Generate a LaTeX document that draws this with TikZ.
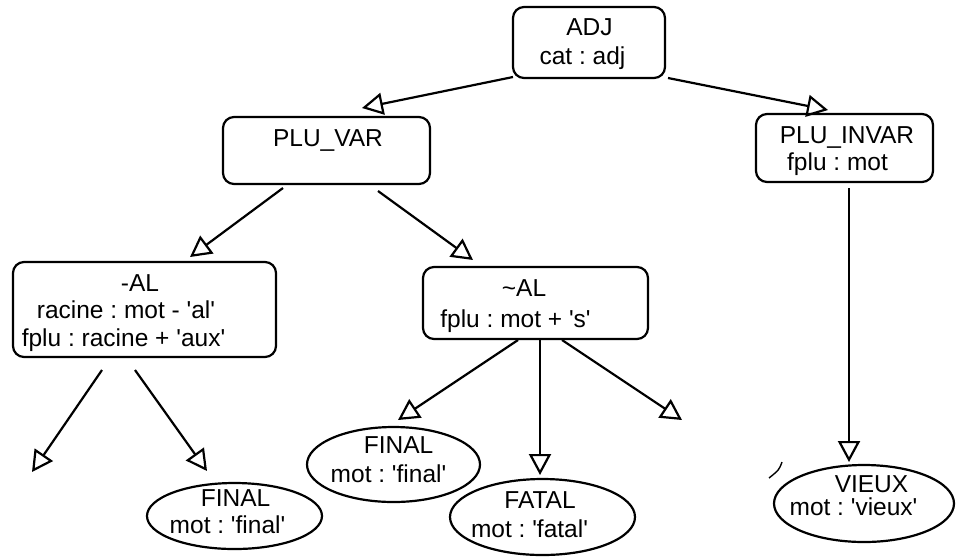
\documentclass[tikz,border=0pt]{standalone}
\usepackage{fontspec}
\setmainfont{Liberation Sans}[Ligatures={TeXOff,NoCommon}]
\usetikzlibrary{arrows.meta,shapes.geometric}
\frenchspacing
\begin{document}
\begin{tikzpicture}[x=1pt,y=-1pt,
  every node/.style={font=\fontsize{24.5}{28}\selectfont, inner sep=0pt, outer sep=0pt},
  box/.style={draw, rounded corners=11pt, line width=2.2pt},
  oval/.style={draw, ellipse, line width=2.2pt},
  txt/.style={anchor=base},
  edge/.style={line width=2.2pt,
    -{Triangle[open, length=21pt, width=22pt, line width=2.2pt]}}
]
\useasboundingbox (0,0) rectangle (957,558);

% class boxes
\node[box, minimum width=152pt, minimum height=71pt] (adj) at (589,42.5) {};
\node[box, minimum width=207pt, minimum height=67pt] (pluvar) at (326.5,150.5) {};
\node[box, minimum width=177pt, minimum height=68pt] (pluinvar) at (844.5,148) {};
\node[box, minimum width=263pt, minimum height=95pt] (al) at (144.5,309.5) {};
\node[box, minimum width=225pt, minimum height=72pt] (nal) at (535.5,303) {};

% instance ellipses
\node[oval, minimum width=175pt, minimum height=66pt] (finalA) at (234.5,516) {};
\node[oval, minimum width=173pt, minimum height=75pt] (finalB) at (393.5,464.5) {};
\node[oval, minimum width=185pt, minimum height=76pt] (fatal) at (542.5,517) {};
\node[oval, minimum width=180pt, minimum height=77pt] (vieux) at (864,503.5) {};

% labels
\node[txt] (adj-a) at (589.5,35.5) {ADJ};
\node[txt] (adj-b) at (582.5,64) {cat : adj};
\node[txt] (pluvar-a) at (328,146) {PLU\_VAR};
\node[txt] (pluinvar-a) at (847,143.5) {PLU\_INVAR};
\node[txt] (pluinvar-b) at (837.5,170) {fplu : mot};
\node[txt] (al-a) at (140,291) {-AL};
\node[txt] (al-b) at (126,318) {racine : mot - 'al'};
\node[txt] (al-c) at (123.5,346) {fplu : racine + 'aux'};
\node[txt] (nal-a) at (524,296) {\textasciitilde AL};
\node[txt] (nal-b) at (515.5,327) {fplu : mot + 's'};
\node[txt] (finalB-a) at (398.5,453) {FINAL};
\node[txt] (finalB-b) at (388.5,482) {mot : 'final'};
\node[txt] (fatal-a) at (540,508) {FATAL};
\node[txt] (fatal-b) at (529.5,537) {mot : 'fatal'};
\node[txt] (finalA-a) at (235.5,506) {FINAL};
\node[txt] (finalA-b) at (227.5,533) {mot : 'final'};
\node[txt] (vieux-a) at (871.5,492) {VIEUX};
\node[txt] (vieux-b) at (853.5,515) {mot : 'vieux'};

% connector ends
\coordinate (adj-l) at (513,77);    \coordinate (pluvar-in) at (362,108);
\coordinate (adj-r) at (668,78);    \coordinate (pluinvar-in) at (828,110);
\coordinate (pluvar-l) at (283,188); \coordinate (al-in) at (190,257);
\coordinate (pluvar-r) at (378,191); \coordinate (nal-in) at (473,260);
\coordinate (al-l) at (102,370);    \coordinate (al-out) at (32,472);
\coordinate (al-r) at (135,370);    \coordinate (finalA-in) at (207,471);
\coordinate (nal-l) at (518,340);   \coordinate (finalB-in) at (398,420);
\coordinate (nal-m) at (540,340);   \coordinate (fatal-in) at (540,475);
\coordinate (nal-r) at (562,340);   \coordinate (nal-out) at (682,420);
\coordinate (pluinvar-d) at (849,188); \coordinate (vieux-in) at (849,462);

% inheritance connectors
\draw[edge] (adj-l) -- (pluvar-in);
\draw[edge] (adj-r) -- (pluinvar-in);
\draw[edge] (pluvar-l) -- (al-in);
\draw[edge] (pluvar-r) -- (nal-in);
\draw[edge] (al-l) -- (al-out);
\draw[edge] (al-r) -- (finalA-in);
\draw[edge] (nal-l) -- (finalB-in);
\draw[edge] (nal-m) -- (fatal-in);
\draw[edge] (nal-r) -- (nal-out);
\draw[edge] (pluinvar-d) -- (vieux-in);

% stray stroke beside VIEUX
\draw[line width=1.4pt] (782,462) .. controls (779,470) .. (769,478);
\end{tikzpicture}
\end{document}
